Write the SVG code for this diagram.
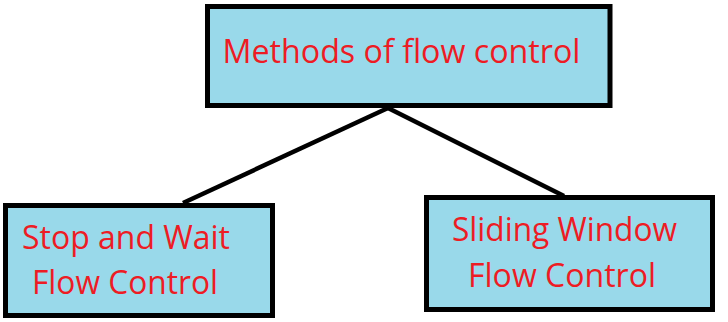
<svg xmlns="http://www.w3.org/2000/svg" width="728" height="322" viewBox="0 0 728 322">
<style>
.box{fill:#99d9ea;stroke:#000;stroke-width:5}
.t{font-family:"Open Sans","Noto Sans",sans-serif;font-size:32.5px;fill:#ed1c24}
.c{stroke:#000;stroke-width:4.5;fill:none}
</style>
<rect width="728" height="322" fill="#fff"/>
<g id="connectors">
<line class="c" x1="388" y1="108" x2="183" y2="203"/>
<line class="c" x1="388" y1="108" x2="564" y2="196"/>
</g>
<g id="methods">
<rect class="box" x="207.5" y="6.5" width="402.5" height="99"/>
<text class="t" x="222.5" y="63" textLength="358" lengthAdjust="spacingAndGlyphs">Methods of flow control</text>
</g>
<g id="stopwait">
<rect class="box" x="5.5" y="205.5" width="267" height="110"/>
<text class="t" x="22" y="249" textLength="208" lengthAdjust="spacingAndGlyphs">Stop and Wait</text>
<text class="t" x="32" y="294" textLength="186" lengthAdjust="spacingAndGlyphs">Flow Control</text>
</g>
<g id="sliding">
<rect class="box" x="426.5" y="197.5" width="286" height="112"/>
<text class="t" x="452" y="241" textLength="225" lengthAdjust="spacingAndGlyphs">Sliding Window</text>
<text class="t" x="468" y="287" textLength="188" lengthAdjust="spacingAndGlyphs">Flow Control</text>
</g>
</svg>
